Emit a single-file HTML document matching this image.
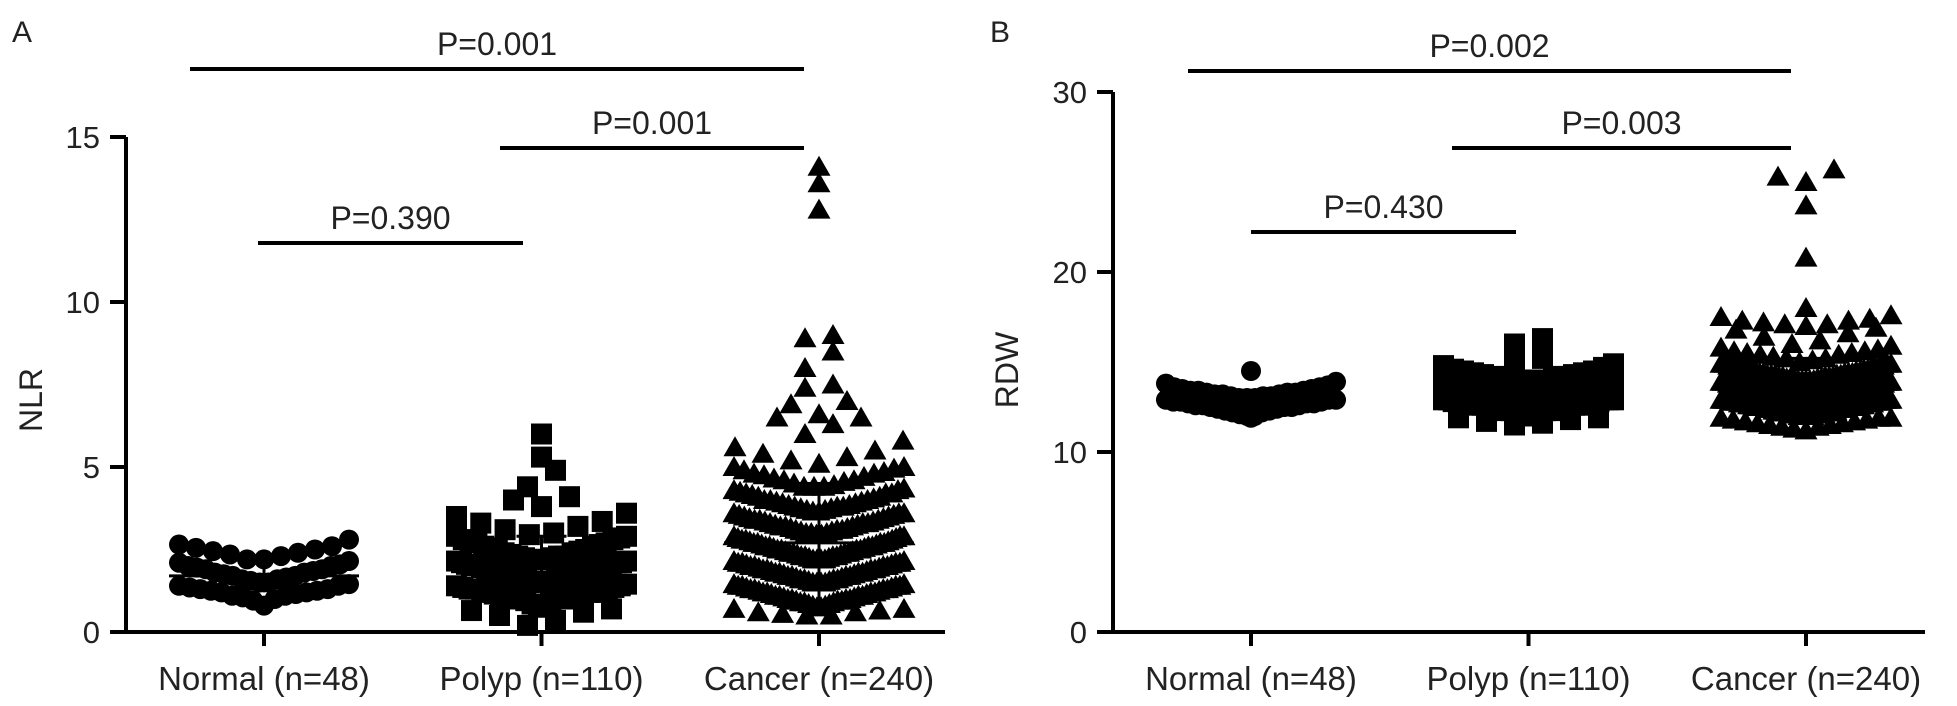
<!DOCTYPE html>
<html><head><meta charset="utf-8"><style>
html,body{margin:0;padding:0;background:#fff;}
svg{display:block;font-family:"Liberation Sans",Arial,sans-serif;}
</style></head><body>
<svg id="fig" width="1957" height="706" viewBox="0 0 1957 706"></svg>
<script>
const categories = ["Normal (n=48)","Polyp (n=110)","Cancer (n=240)"];
const nlrTicks = [0,5,10,15];
const rdwTicks = [0,10,20,30];
const nlrNormal = [0.8,0.95,1.0,1.05,1.1,1.1,1.15,1.2,1.2,1.25,1.25,1.3,1.3,1.35,1.4,1.4,1.45,1.5,1.5,1.55,1.6,1.6,1.65,1.7,1.7,1.75,1.8,1.8,1.85,1.9,1.9,1.95,2.0,2.0,2.05,2.1,2.15,2.2,2.2,2.3,2.35,2.4,2.45,2.5,2.55,2.6,2.65,2.8];
const nlrPolyp = [0.2,0.35,0.5,0.6,0.65,0.7,0.75,0.8,0.85,0.9,0.95,1.0,1.0,1.05,1.1,1.1,1.15,1.2,1.2,1.25,1.3,1.3,1.35,1.4,1.4,1.45,1.5,1.5,1.55,1.6,1.6,1.65,1.7,1.7,1.75,1.8,1.8,1.85,1.9,1.9,1.95,1.95,2.0,2.0,2.05,2.05,2.1,2.1,2.15,2.2,2.2,2.25,2.3,2.3,2.35,2.4,2.4,2.45,2.5,2.5,2.55,2.6,2.6,2.65,2.7,2.7,2.75,2.8,2.8,2.85,2.9,2.9,2.95,3.0,3.1,3.2,3.3,3.35,3.5,3.6,3.8,4.0,4.1,4.4,4.9,5.3,6.0,1.0,1.05,1.1,1.15,1.2,1.25,1.3,1.35,1.5,1.55,1.6,1.7,1.75,1.8,1.85,2.0,2.1,2.15,2.2,2.25,2.3,1.9,1.65];
const nlrCancer = [0.5,0.55,0.6,0.6,0.65,0.7,0.7,0.75,0.75,0.8,0.8,0.85,0.85,0.9,0.9,0.9,0.95,0.95,0.95,0.5,
1.0,1.0,1.0,1.05,1.05,1.1,1.1,1.1,1.15,1.15,1.2,1.2,1.2,1.25,1.25,1.3,1.3,1.3,1.35,1.35,1.4,1.4,1.4,1.45,1.45,1.0,1.1,1.2,1.3,1.4,
1.5,1.5,1.5,1.55,1.55,1.6,1.6,1.6,1.65,1.65,1.7,1.7,1.7,1.75,1.75,1.8,1.8,1.8,1.85,1.85,1.9,1.9,1.9,1.95,1.95,1.5,1.6,1.7,1.8,1.9,
2.0,2.0,2.0,2.05,2.05,2.1,2.1,2.1,2.15,2.15,2.2,2.2,2.2,2.25,2.25,2.3,2.3,2.3,2.35,2.35,2.4,2.4,2.4,2.45,2.45,2.0,2.1,2.2,2.3,2.4,
2.5,2.5,2.5,2.55,2.55,2.6,2.6,2.6,2.65,2.65,2.7,2.7,2.7,2.75,2.75,2.8,2.8,2.8,2.85,2.85,2.9,2.9,2.9,2.95,2.95,2.5,2.6,2.7,
3.0,3.0,3.05,3.05,3.1,3.1,3.15,3.15,3.2,3.2,3.25,3.25,3.3,3.3,3.35,3.35,3.4,3.4,3.45,3.45,3.0,3.1,3.2,3.3,3.4,
3.5,3.5,3.55,3.55,3.6,3.6,3.65,3.65,3.7,3.7,3.75,3.75,3.8,3.8,3.85,3.85,3.9,3.9,3.95,3.95,3.6,3.8,
4.0,4.0,4.05,4.1,4.1,4.15,4.2,4.2,4.25,4.3,4.3,4.35,4.4,4.4,4.45,4.0,4.2,4.4,
4.5,4.55,4.6,4.65,4.7,4.75,4.8,4.85,4.9,4.95,4.6,4.8,
5.0,5.0,5.1,5.2,5.3,5.5,5.6,5.8,6.0,6.3,6.5,6.5,6.6,6.9,7.0,7.4,7.5,8.0,8.5,8.9,9.0,12.8,13.6,14.1,5.4];
const rdwNormal = [11.9,12.0,12.1,12.2,12.2,12.3,12.3,12.4,12.4,12.5,12.5,12.5,12.6,12.6,12.6,12.7,12.7,12.7,12.8,12.8,12.8,12.9,12.9,12.9,13.0,13.0,13.0,13.1,13.1,13.1,13.2,13.2,13.2,13.3,13.3,13.3,13.4,13.4,13.4,13.5,13.5,13.6,13.6,13.7,13.8,13.9,12.0,14.5];
const rdwPolyp = [11.5,11.6,11.7,11.8,11.9,11.9,12.0,12.0,12.1,12.1,
12.2,12.2,12.3,12.3,12.3,12.4,12.4,12.4,12.5,12.5,12.5,12.6,12.6,12.6,12.7,12.7,12.7,12.8,12.8,12.8,
12.9,12.9,12.9,13.0,13.0,13.0,13.1,13.1,13.1,13.2,13.2,13.2,13.3,13.3,13.3,13.4,13.4,13.4,13.5,13.5,
13.5,13.6,13.6,13.6,13.7,13.7,13.7,13.8,13.8,13.8,13.9,13.9,13.9,14.0,14.0,14.0,14.1,14.1,14.2,14.2,
14.3,14.3,14.4,14.4,14.5,14.5,14.6,14.7,14.8,14.9,15.0,15.2,16.0,16.3,
12.5,12.6,12.7,12.8,12.9,13.0,13.1,13.2,13.3,13.4,13.5,13.6,13.7,13.8,13.9,14.0,12.4,12.3,13.0,13.2,13.4,13.6,13.8,12.8,12.9,13.1];
const rdwCancer = [11.2,11.3,11.4,11.4,11.5,11.5,11.6,11.6,11.7,11.7,11.8,11.8,11.9,11.9,11.9,
12.0,12.0,12.0,12.0,12.0,12.0,12.0,12.1,12.1,12.1,12.1,12.1,12.1,12.1,12.2,12.2,12.2,12.2,12.2,12.2,12.2,12.3,12.3,12.3,12.3,12.3,12.3,12.3,12.4,12.4,12.4,12.4,12.4,12.4,12.4,
12.5,12.5,12.5,12.5,12.5,12.5,12.5,12.5,12.6,12.6,12.6,12.6,12.6,12.6,12.6,12.6,12.7,12.7,12.7,12.7,12.7,12.7,12.7,12.7,12.8,12.8,12.8,12.8,12.8,12.8,12.8,12.8,12.9,12.9,12.9,12.9,12.9,12.9,12.9,12.9,
13.0,13.0,13.0,13.0,13.0,13.0,13.0,13.0,13.1,13.1,13.1,13.1,13.1,13.1,13.1,13.1,13.2,13.2,13.2,13.2,13.2,13.2,13.2,13.2,13.3,13.3,13.3,13.3,13.3,13.3,13.3,13.3,13.4,13.4,13.4,13.4,13.4,13.4,13.4,13.4,
13.5,13.5,13.5,13.5,13.5,13.5,13.6,13.6,13.6,13.6,13.6,13.6,13.7,13.7,13.7,13.7,13.7,13.7,13.8,13.8,13.8,13.8,13.8,13.8,13.9,13.9,13.9,13.9,13.9,13.9,
14.0,14.0,14.0,14.0,14.0,14.1,14.1,14.1,14.1,14.1,14.2,14.2,14.2,14.2,14.2,14.3,14.3,14.3,14.3,14.3,14.4,14.4,14.4,14.4,14.4,
14.5,14.5,14.5,14.5,14.6,14.6,14.6,14.6,14.7,14.7,14.7,14.7,14.8,14.8,14.8,14.8,14.9,14.9,14.9,14.9,
15.0,15.1,15.2,15.3,15.4,15.5,15.5,15.6,15.7,15.8,15.9,15.2,15.4,15.6,
16.0,16.2,16.4,16.6,16.8,16.9,
17.0,17.1,17.1,17.2,17.3,17.3,17.4,17.5,17.6,18.0,20.8,23.7,25.0,25.3,25.7];
const nlrMean = [1.7,2.0,2.7];
const nlrSD = [0.5,0.9,1.8];
const rdwMean = [12.9,13.5,13.5];
const rdwSD = [0.5,0.9,1.7];
const pLabelsA = ["P=0.001","P=0.001","P=0.390"];
const pLabelsB = ["P=0.002","P=0.003","P=0.430"];

const NS = "http://www.w3.org/2000/svg";
const svg = document.getElementById('fig');
function mk(tag, attrs, parent){ const e=document.createElementNS(NS,tag); for(const k in attrs) e.setAttribute(k,attrs[k]); (parent||svg).appendChild(e); return e; }

function panel(cfg){
  const g = mk('g',{});
  
  
  const y = v => cfg.y0 - (v - 0) * (cfg.y0 - cfg.yTop) / cfg.yMax;
  const xc = i => cfg.x0 + i * cfg.step;
  const ya = mk('line',{x1:cfg.ax,y1:y(cfg.yMax),x2:cfg.ax,y2:cfg.y0+2,stroke:'#000','stroke-width':4},g);
   
  const xa = mk('line',{x1:cfg.ax-16,y1:cfg.y0,x2:cfg.xEnd,y2:cfg.y0,stroke:'#000','stroke-width':4},g);
   
  cfg.ticks.forEach(t=>{
    const tl = mk('line',{x1:cfg.ax-16,y1:y(t),x2:cfg.ax,y2:y(t),stroke:'#000','stroke-width':4},g);
     
    const tx = mk('text',{x:cfg.ax-26,y:y(t)+11,'text-anchor':'end','font-size':31,fill:'#222'},g);
    tx.textContent = t;
     
  });
  categories.forEach((c,i)=>{
    const tl = mk('line',{x1:xc(i),y1:cfg.y0,x2:xc(i),y2:cfg.y0+14,stroke:'#000','stroke-width':4},g);
     
    const tx = mk('text',{x:xc(i),y:690,'text-anchor':'middle','font-size':33,fill:'#222'},g);
    tx.textContent = c;
     
  });
  const yt = mk('text',{x:0,y:0,'text-anchor':'middle','font-size':32,fill:'#222',transform:`translate(${cfg.titleX},${cfg.titleY}) rotate(-90)`},g);
  yt.textContent = cfg.title;
   
  const pl = mk('text',{x:cfg.letterX,y:42,'font-size':30,fill:'#222'},g);
  pl.textContent = cfg.letter;
   

  const markerPx = 20, maxW = 170;
  cfg.series.forEach((vals,i)=>{
    const binU = cfg.binPx * cfg.yMax / (cfg.y0 - cfg.yTop);
    const bins = {};
    vals.forEach(v=>{ const b=Math.floor(v/binU); (bins[b]=bins[b]||[]).push(v); });
    Object.keys(bins).forEach(b=>{
      const arr = bins[b].slice().sort((a,c)=>a-c);
      const n = arr.length;
      const s = n>1 ? Math.min(markerPx*1.4, maxW/(n-1)) : 0;
      const offs = [];
      for(let k=0;k<n;k++) offs.push((k-(n-1)/2)*s);
      offs.sort((a,c)=>Math.abs(a)-Math.abs(c) || a-c);
      arr.forEach((v,k)=>{
        const px = xc(i)+offs[k], py = y(v);
        let m;
        if(cfg.shapes[i]==='circle') m = mk('circle',{cx:px,cy:py,r:10,fill:'#000'},g);
        else if(cfg.shapes[i]==='square') m = mk('rect',{x:px-10.5,y:py-10.5,width:21,height:21,fill:'#000'},g);
        else m = mk('polygon',{points:`${px},${py-11} ${px-11.5},${py+9} ${px+11.5},${py+9}`,fill:'#000'},g);
        
        
      });
    });
    const mu = cfg.means[i], sd = cfg.sds[i];
    const ml = mk('line',{x1:xc(i)-95,y1:y(mu),x2:xc(i)+95,y2:y(mu),stroke:'#000','stroke-width':3},g);
     
    const el = mk('line',{x1:xc(i),y1:y(mu-sd),x2:xc(i),y2:y(mu+sd),stroke:'#000','stroke-width':3},g);
     
    const cu = mk('line',{x1:xc(i)-25,y1:y(mu+sd),x2:xc(i)+25,y2:y(mu+sd),stroke:'#000','stroke-width':3},g);
     
  });
  cfg.brackets.forEach((br,k)=>{
    const l = mk('line',{x1:br[0],y1:br[2],x2:br[1],y2:br[2],stroke:'#000','stroke-width':4},g);
     
    const t = mk('text',{x:(br[0]+br[1])/2,y:br[2]-14,'text-anchor':'middle','font-size':32,fill:'#222'},g);
    t.textContent = cfg.pLabels[k];
     
  });
}

panel({name:'panel-a-nlr',ax:126,x0:264,step:277.5,y0:632,yTop:137,yMax:15,xEnd:945,ticks:nlrTicks,
  series:[nlrNormal,nlrPolyp,nlrCancer],shapes:['circle','square','triangle'],means:nlrMean,sds:nlrSD,binPx:24,
  title:'NLR',titleX:42,titleY:400,letter:'A',letterX:12,
  brackets:[[190,804,69],[500,804,148],[258,523,243]],pLabels:pLabelsA});
panel({name:'panel-b-rdw',ax:1113,x0:1251,step:277.5,y0:632,yTop:92,yMax:30,xEnd:1925,ticks:rdwTicks,
  series:[rdwNormal,rdwPolyp,rdwCancer],shapes:['circle','square','triangle'],means:rdwMean,sds:rdwSD,binPx:18,
  title:'RDW',titleX:1018,titleY:370,letter:'B',letterX:990,
  brackets:[[1188,1791,71],[1452,1791,148],[1251,1516,232]],pLabels:pLabelsB});
</script>
</body></html>
